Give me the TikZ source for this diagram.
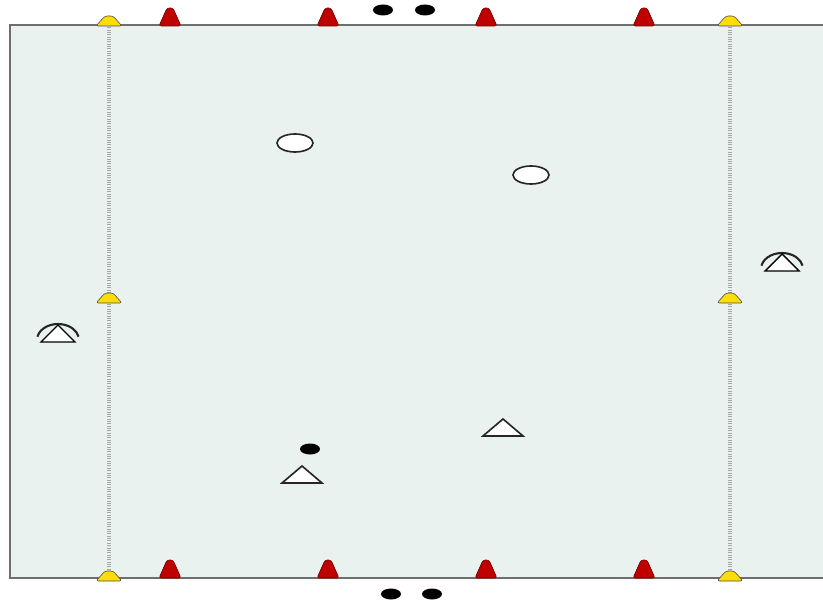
\documentclass[tikz,border=0pt]{standalone}
\usepackage{tikz}
\usetikzlibrary{calc}
\definecolor{pitch}{HTML}{E9F2EF}
\definecolor{pitchline}{HTML}{6E6E6E}
\colorlet{redcone}{red!75!black}
\colorlet{yellowcone}{yellow!80!orange}
\newcommand{\rcone}[2]{%
  \draw[fill=redcone, draw=redcone!60!black, line width=0.5pt, rounded corners=2pt] (#1-11,#2+4) -- (#1-3,#2-14) -- (#1+3,#2-14) -- (#1+11,#2+4) -- cycle;
}
\newcommand{\ycone}[2]{%
  \draw[fill=yellowcone, draw=black!70, line width=0.5pt, rounded corners=2pt] (#1-13,#2+4) -- (#1-4,#2-6) -- (#1+4,#2-6) -- (#1+13,#2+4) -- cycle;
}
\newcommand{\keeper}[2]{%
  \draw[line width=1.8pt, black!85] ($(#1,#2+6)+(192:21 and 16)$) arc (192:348:21 and 16);
  \draw[fill=white, draw=black, line width=1.2pt] (#1-17,#2+8) -- (#1,#2-9) -- (#1+17,#2+8) -- cycle;
}

\begin{document}
\begin{tikzpicture}[x=0.3mm, y=-0.3mm]
    \useasboundingbox (0,0) rectangle (823,603);
    % pitch
    \fill[pitch] (10,25) rectangle (823,578);
    \draw[pitchline, line width=1.4pt] (823,25) -- (10,25) -- (10,578) -- (823,578);
    \foreach \x in {109,730} {
      \draw[black!35, line width=3pt, dash pattern=on 0.8pt off 1.2pt] (\x,25) -- (\x,578);
    }
    % cones
    \foreach \x in {170,328,486,644} {
      \rcone{\x}{22} \rcone{\x}{574}
    }
    \foreach \x in {109,730} {
      \ycone{\x}{22} \ycone{\x}{299} \ycone{\x}{577}
    }
    % balls
    \foreach \x/\y in {383/10, 425/10, 391/594, 432/594, 310/449} {
      \fill[black] (\x,\y) ellipse (10 and 5.5);
    }
    % players
    \foreach \x/\y in {295/143, 531/175} {
      \draw[fill=white, draw=black!85, line width=1.4pt] (\x,\y) ellipse (18 and 9);
    }
    \foreach \x/\y in {503/428, 302/475} {
      \draw[fill=white, draw=black!85, line width=1.4pt] (\x-20,\y+8) -- (\x,\y-9) -- (\x+20,\y+8) -- cycle;
    }
    \keeper{58}{334} \keeper{782}{263}
  \end{tikzpicture}
\end{document}
